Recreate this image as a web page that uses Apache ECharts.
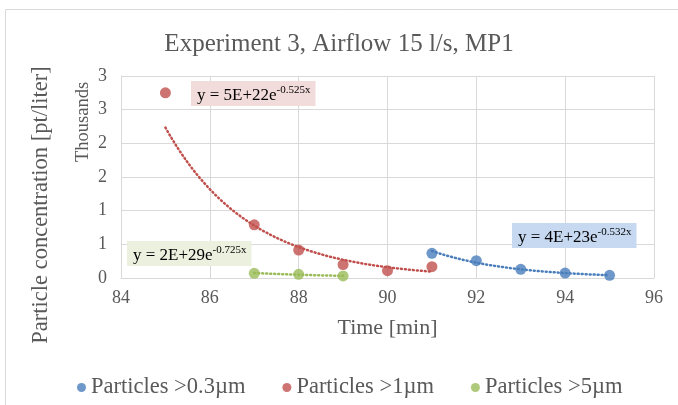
<!DOCTYPE html>
<html>
<head>
<meta charset="utf-8">
<script src="https://cdn.jsdelivr.net/npm/echarts@6/dist/echarts.min.js"></script>
<style>
  html, body { margin: 0; padding: 0; background: #fff; }
  #chart { width: 678px; height: 405px; }
</style>
</head>
<body>
<div id="chart"></div>
<script>
// 測定データ (pt/liter)
const timeRed = [85, 87, 88, 89, 90, 91];
const valRed = [2750, 790, 415, 200, 108, 168];
const timeBlue = [91, 92, 93, 94, 95];
const valBlue = [366, 257, 129, 74, 40];
const timeGreen = [87, 88, 89];
const valGreen = [70, 55, 30];

const seriesNames = ['Particles >0.3µm', 'Particles >1µm', 'Particles >5µm'];
const colors = ['#4a7ebb', '#c0504d', '#9bbb59'];
const xTicks = [84, 86, 88, 90, 92, 94, 96];

const serif = '"Liberation Serif", "DejaVu Serif", serif';
const textColor = '#595959';

// Excel と同じ指数近似 (ln y の最小二乗)
function expFit(xs, ys) {
    const n = xs.length;
    const ly = ys.map(v => Math.log(v));
    const mx = xs.reduce((a, b) => a + b, 0) / n;
    const my = ly.reduce((a, b) => a + b, 0) / n;
    let sxy = 0, sxx = 0;
    for (let i = 0; i < n; i++) {
        sxy += (xs[i] - mx) * (ly[i] - my);
        sxx += (xs[i] - mx) * (xs[i] - mx);
    }
    const b = sxy / sxx;
    const a = my - b * mx;
    const x0 = Math.min(...xs), x1 = Math.max(...xs);
    const pts = [];
    const steps = 60;
    for (let i = 0; i <= steps; i++) {
        const x = x0 + (x1 - x0) * i / steps;
        pts.push([x, Math.exp(a + b * x)]);
    }
    return pts;
}

function pairs(xs, ys) {
    return xs.map((x, i) => [x, ys[i]]);
}

function trend(name, pts, color) {
    return {
        name: name,
        type: 'line',
        data: pts,
        showSymbol: false,
        symbol: 'none',
        silent: true,
        z: 1,
        lineStyle: { color: color, width: 2.5, type: [1, 3], cap: 'round' }
    };
}

// 近似式のラベル
function eqLabel(left, top, main, sup, bg) {
    return {
        type: 'text',
        left: left,
        top: top,
        z: 100,
        style: {
            text: '{m|' + main + '}{s|' + sup + '}',
            backgroundColor: bg,
            padding: [4, 5, 2, 6],
            rich: {
                m: { fontFamily: serif, fontSize: 17, color: textColor, lineHeight: 19, verticalAlign: 'bottom' },
                s: { fontFamily: serif, fontSize: 11, color: textColor, lineHeight: 19, verticalAlign: 'top' }
            }
        }
    };
}

const chart = echarts.init(document.getElementById('chart'));

const option = {
    animation: false,
    backgroundColor: '#fff',
    title: {
        text: 'Experiment 3, Airflow 15 l/s, MP1',
        left: 'center',
        top: 27,
        textStyle: { fontFamily: serif, fontSize: 25, fontWeight: 'normal', color: textColor }
    },
    legend: {
        data: seriesNames,
        top: 371,
        left: 72,
        icon: 'circle',
        itemWidth: 9,
        itemHeight: 9,
        itemGap: 37,
        textStyle: { fontFamily: serif, fontSize: 22.5, color: textColor }
    },
    grid: { left: 121, right: 24, top: 76, bottom: 127 },
    xAxis: {
        type: 'value',
        min: 84,
        max: 96,
        interval: 2,
        name: 'Time [min]',
        nameLocation: 'middle',
        nameGap: 39,
        nameTextStyle: { fontFamily: serif, fontSize: 22, color: textColor },
        axisLine: { show: true, lineStyle: { color: '#d9d9d9' } },
        axisTick: { show: false },
        axisLabel: {
            fontFamily: serif, fontSize: 18, color: textColor, margin: 11,
            formatter: v => xTicks.includes(v) ? String(v) : ''
        },
        splitLine: { show: true, lineStyle: { color: '#d9d9d9' } }
    },
    yAxis: {
        type: 'value',
        min: 0,
        max: 3000,
        interval: 500,
        axisLine: { show: true, lineStyle: { color: '#d9d9d9' } },
        axisTick: { show: false },
        axisLabel: {
            fontFamily: serif, fontSize: 18, color: textColor, margin: 14,
            formatter: v => String(Math.round(v / 1000))
        },
        splitLine: { show: true, lineStyle: { color: '#d9d9d9' } }
    },
    graphic: [
        {
            type: 'rect',
            left: 3,
            top: 7,
            silent: true,
            z: -10,
            shape: { width: 720, height: 420 },
            style: { fill: 'none', stroke: '#d9d9d9', lineWidth: 1 }
        },
        {
            type: 'text',
            x: 41,
            y: 205,
            rotation: Math.PI / 2,
            style: {
                text: 'Particle concentration [pt/liter]',
                fontFamily: serif, fontSize: 22.5, fill: textColor,
                align: 'center', verticalAlign: 'middle'
            }
        },
        {
            type: 'text',
            x: 83,
            y: 122,
            rotation: Math.PI / 2,
            style: {
                text: 'Thousands',
                fontFamily: serif, fontSize: 18.5, fill: textColor,
                align: 'center', verticalAlign: 'middle'
            }
        },
        eqLabel(191, 81, 'y = 5E+22e', '-0.525x', '#f2dcdb'),
        eqLabel(127, 241, 'y = 2E+29e', '-0.725x', '#ebf1de'),
        eqLabel(512, 223, 'y = 4E+23e', '-0.532x', '#c6d9f1')
    ],
    series: [
        trend('trend0.3', expFit(timeBlue, valBlue), colors[0]),
        trend('trend1', expFit(timeRed, valRed), colors[1]),
        trend('trend5', expFit(timeGreen, valGreen), colors[2]),
        {
            name: seriesNames[0],
            type: 'scatter',
            data: pairs(timeBlue, valBlue),
            symbolSize: 11,
            z: 5,
            itemStyle: { color: colors[0] }
        },
        {
            name: seriesNames[1],
            type: 'scatter',
            data: pairs(timeRed, valRed),
            symbolSize: 11,
            z: 5,
            itemStyle: { color: colors[1] }
        },
        {
            name: seriesNames[2],
            type: 'scatter',
            data: pairs(timeGreen, valGreen),
            symbolSize: 11,
            z: 5,
            itemStyle: { color: colors[2] }
        }
    ]
};

chart.setOption(option);
</script>
</body>
</html>
